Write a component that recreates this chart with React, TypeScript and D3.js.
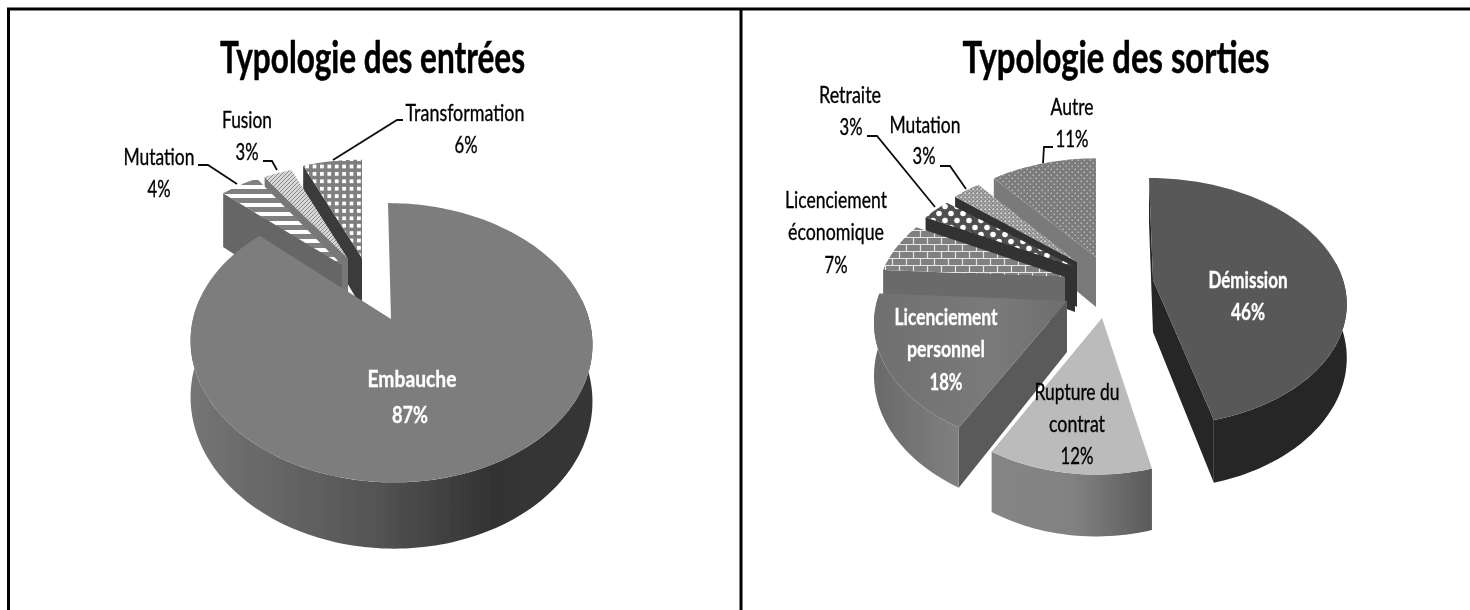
import React from "react";
import * as d3 from "d3";

// ---------- data ----------
const entreesLabels = ["Embauche", "Mutation", "Fusion", "Transformation"];
const entreesValues = [87, 4, 3, 6];
const sortiesLabels = ["Démission", "Rupture du contrat", "Licenciement personnel", "Licenciement économique", "Retraite", "Mutation", "Autre"];
const sortiesValues = [46, 12, 18, 7, 3, 3, 11];
const titles = ["Typologie des entrées", "Typologie des sorties"];

// ---------- layout ----------
type Geo = { ax: number; ay: number; rx: number; ry: number; k: number; sk: number; d: number; top: string; wall: string; side: string };
const K = 0.17;
const entreesGeo: Geo[] = [
  { ax: 391, ay: 319, rx: 198, ry: 135.6, k: K, sk: -3, d: 55, top: "#7d7d7d", wall: "url(#gEmb)", side: "#3a3a3a" },
  { ax: 342, ay: 265, rx: 182, ry: 117, k: K, sk: 0, d: 60, top: "url(#pStripes)", wall: "#666", side: "#666" },
  { ax: 348, ay: 259, rx: 178, ry: 111, k: K, sk: 0, d: 50, top: "url(#pFine)", wall: "#777", side: "#777" },
  { ax: 362, ay: 258, rx: 185, ry: 115, k: K, sk: 0, d: 50, top: "url(#pPlaid)", wall: "#3b3b3b", side: "#3b3b3b" },
];
const sortiesGeo: Geo[] = [
  { ax: 1153, ay: 280, rx: 190, ry: 120, k: 0.176, sk: -4, d: 52, top: "#595959", wall: "#252525", side: "#252525" },
  { ax: 1102, ay: 318, rx: 185, ry: 129, k: 0.176, sk: 5.7, d: 51, top: "#bbbbbb", wall: "url(#gRup)", side: "#666" },
  { ax: 1067, ay: 301, rx: 190, ry: 122, k: 0.176, sk: 0, d: 51, top: "url(#gPers)", wall: "url(#gPersW)", side: "#5a5a5a" },
  { ax: 1065, ay: 277, rx: 184, ry: 112, k: 0.176, sk: 0, d: 45, top: "url(#pBrick)", wall: "#6a6a6a", side: "#6a6a6a" },
  { ax: 1075, ay: 267, rx: 185, ry: 112, k: 0.176, sk: 0, d: 45, top: "url(#pDots)", wall: "#333", side: "#333" },
  { ax: 1077, ay: 262, rx: 176, ry: 114, k: 0.176, sk: 0, d: 45, top: "url(#pMini)", wall: "#333", side: "#333" },
  { ax: 1096, ay: 257, rx: 182, ry: 116, k: 0.176, sk: 0, d: 50, top: "url(#pAutre)", wall: "#7a7a7a", side: "#7a7a7a" },
];

type Lbl = { t: string; x: number; y: number; w: number; c?: string; b?: boolean };
const labelsText: Lbl[] = [
  { t: "Transformation", x: 465, y: 121, w: 119 },
  { t: "6%", x: 466, y: 153, w: 23 },
  { t: "Fusion", x: 247, y: 128, w: 50 },
  { t: "3%", x: 247, y: 160, w: 23 },
  { t: "Mutation", x: 159, y: 165, w: 71 },
  { t: "4%", x: 159, y: 197, w: 23 },
  { t: "Embauche", x: 412, y: 387, w: 89, c: "#fff", b: true },
  { t: "87%", x: 410, y: 423, w: 36, c: "#fff", b: true },
  { t: "Retraite", x: 850, y: 103, w: 62 },
  { t: "3%", x: 851, y: 135, w: 23 },
  { t: "Mutation", x: 925, y: 133, w: 71 },
  { t: "3%", x: 924, y: 164, w: 23 },
  { t: "Licenciement", x: 836, y: 208, w: 102 },
  { t: "économique", x: 836, y: 240, w: 96 },
  { t: "7%", x: 836, y: 273, w: 23 },
  { t: "Autre", x: 1072, y: 115, w: 43 },
  { t: "11%", x: 1072, y: 147, w: 33 },
  { t: "Licenciement", x: 946, y: 325, w: 103, c: "#fff", b: true },
  { t: "personnel", x: 946, y: 357, w: 78, c: "#fff", b: true },
  { t: "18%", x: 946, y: 390, w: 33, c: "#fff", b: true },
  { t: "Rupture du", x: 1077, y: 400, w: 85 },
  { t: "contrat", x: 1077, y: 432, w: 56 },
  { t: "12%", x: 1077, y: 464, w: 33 },
  { t: "Démission", x: 1248, y: 288, w: 79, c: "#fff", b: true },
  { t: "46%", x: 1248, y: 320, w: 34, c: "#fff", b: true },
];
const leaders: [number, number][][] = [
  [[333, 160], [397, 120], [403, 120]],
  [[277, 170], [272, 161], [263, 161]],
  [[237, 184], [208, 165], [198, 165]],
  [[935, 207], [877, 136], [867, 136]],
  [[966, 189], [950, 166], [940, 166]],
  [[1043, 163], [1044, 147], [1053, 147]],
];

function projector(g: Geo) {
  return (a: number, r: number, z: number): [number, number] => {
    const u = Math.sin(a) * r;
    const v = Math.cos(a) * r;
    const f = 1 / (1 + g.k * v);
    return [g.ax + g.rx * u * f + g.sk * v, g.ay - g.ry * v * f + z * f];
  };
}
const line = d3.line<[number, number]>().x((p) => p[0]).y((p) => p[1]);

function Slice({ g, a0, a1 }: { g: Geo; a0: number; a1: number }) {
  const P = projector(g);
  const n = Math.max(8, Math.ceil((a1 - a0) * 40));
  const angles = d3.range(n + 1).map((i) => a0 + ((a1 - a0) * i) / n);
  const rim = angles.map((a) => P(a, 1, 0));
  const top = "M" + P(0, 0, 0).join(",") + "L" + (line(rim) as string).slice(1) + "Z";
  const radial = (a: number) =>
    line([P(a, 0, 0), P(a, 1, 0), P(a, 1, g.d), P(a, 0, g.d)]) + "Z";
  // outer wall: portion of the arc that faces the viewer
  const lo = Math.PI / 2 - 0.15;
  const hi = (3 * Math.PI) / 2 + 0.15;
  const wa0 = Math.max(a0, lo);
  const wa1 = Math.min(a1, hi);
  let outer: string | null = null;
  if (wa1 > wa0) {
    const m = Math.ceil((wa1 - wa0) * 40);
    const as = d3.range(m + 1).map((i) => wa0 + ((wa1 - wa0) * i) / m);
    const pts = as.map((a) => P(a, 1, 0)).concat(as.slice().reverse().map((a) => P(a, 1, g.d)));
    outer = line(pts) + "Z";
  }
  const startVisible = Math.sin(a0) < -1e-6 || (a0 === 0 && g.ax > 1000);
  const endVisible = -Math.sin(a1) < -1e-6;
  return (
    <g>
      {endVisible && <path d={radial(a1)} fill={g.side} />}
      {startVisible && <path d={radial(a0)} fill={g.side} />}
      {outer && <path d={outer} fill={g.wall} />}
      <path d={top} fill={g.top} />
    </g>
  );
}

function Pie({ values, geo, order }: { values: number[]; geo: Geo[]; order: number[] }) {
  const arcs = d3.pie<number>().sort(null).value((d) => d)(values);
  return (
    <g>
      {order.map((i) => (
        <Slice key={i} g={geo[i]} a0={arcs[i].startAngle} a1={arcs[i].endAngle} />
      ))}
    </g>
  );
}

export default function App() {
  const font = "Lato, 'Open Sans', sans-serif";
  return (
    <svg width={1470} height={610} style={{ position: "fixed", left: 0, top: 0, background: "#fff" }}>
      <defs>
        <filter id="soft" x="-5%" y="-5%" width="110%" height="110%">
          <feGaussianBlur stdDeviation="0.65" />
        </filter>
        <linearGradient id="gEmb" gradientUnits="userSpaceOnUse" x1="190" x2="592" y1="0" y2="0">
          <stop offset="0" stopColor="#757575" />
          <stop offset="0.45" stopColor="#555" />
          <stop offset="0.75" stopColor="#333" />
          <stop offset="1" stopColor="#363636" />
        </linearGradient>
        <linearGradient id="gRup" gradientUnits="userSpaceOnUse" x1="992" x2="1152" y1="0" y2="0">
          <stop offset="0" stopColor="#858585" />
          <stop offset="0.5" stopColor="#828282" />
          <stop offset="1" stopColor="#5a5a5a" />
        </linearGradient>
        <linearGradient id="gPers" gradientUnits="userSpaceOnUse" x1="878" x2="1067" y1="0" y2="0">
          <stop offset="0" stopColor="#707070" />
          <stop offset="0.6" stopColor="#7a7a7a" />
          <stop offset="1" stopColor="#6e6e6e" />
        </linearGradient>
        <linearGradient id="gPersW" gradientUnits="userSpaceOnUse" x1="876" x2="958" y1="0" y2="0">
          <stop offset="0" stopColor="#6a6a6a" />
          <stop offset="1" stopColor="#808080" />
        </linearGradient>
        <pattern id="pStripes" width="9" height="9" patternUnits="userSpaceOnUse">
          <rect width="9" height="9" fill="#fff" />
          <rect width="9" height="5" fill="#808080" />
        </pattern>
        <pattern id="pFine" width="4" height="4" patternUnits="userSpaceOnUse">
          <rect width="4" height="4" fill="#d8d8d8" />
          <path d="M0 4L4 0M-1 1L1 -1M3 5L5 3" stroke="#888" strokeWidth="1" />
        </pattern>
        <pattern id="pPlaid" width="7.4" height="7.4" patternUnits="userSpaceOnUse">
          <rect width="7.4" height="7.4" fill="#7e7e7e" />
          <rect x="1.8" y="1.8" width="3.8" height="3.8" fill="#fff" />
        </pattern>
        <pattern id="pDots" width="12" height="14" patternUnits="userSpaceOnUse">
          <rect width="12" height="14" fill="#505050" />
          <circle cx="3" cy="3.5" r="2.8" fill="#fff" />
          <circle cx="9" cy="10.5" r="2.8" fill="#fff" />
        </pattern>
        <pattern id="pMini" width="4" height="4" patternUnits="userSpaceOnUse">
          <rect width="4" height="4" fill="#8c8c8c" />
          <rect x="0.5" y="0.5" width="1.6" height="1.6" fill="#e4e4e4" />
          <rect x="2.5" y="2.5" width="1.2" height="1.2" fill="#ccc" />
        </pattern>
        <pattern id="pBrick" width="14" height="14" patternUnits="userSpaceOnUse">
          <rect width="14" height="14" fill="#808080" />
          <path d="M0 6.5H14M0 13.5H14M3.5 0V6.5M10.5 7V14" stroke="#e6e6e6" strokeWidth="1.2" fill="none" />
        </pattern>
        <pattern id="pAutre" width="6" height="6" patternUnits="userSpaceOnUse">
          <rect width="6" height="6" fill="#7c7c7c" />
          <rect x="0.5" y="0.5" width="1.5" height="1.5" fill="#b8b8b8" />
          <rect x="3.5" y="3.5" width="1.5" height="1.5" fill="#b8b8b8" />
        </pattern>
      </defs>

      <g filter="url(#soft)">
        <Pie values={entreesValues} geo={entreesGeo} order={[3, 2, 1, 0]} />
        <Pie values={sortiesValues} geo={sortiesGeo} order={[6, 5, 4, 3, 2, 1, 0]} />

        {leaders.map((l, i) => (
          <path key={i} d={line(l) as string} fill="none" stroke="#111" strokeWidth={1.8} />
        ))}

        {titles.map((t, i) => (
          <text
            key={t}
            x={i === 0 ? 372.5 : 1116}
            y={73}
            textAnchor="middle"
            fontFamily={font}
            fontWeight={700}
            fontSize={44}
            textLength={i === 0 ? 305 : 307}
            lengthAdjust="spacingAndGlyphs"
            fill="#000"
            stroke="#000"
            strokeWidth={0.5}
          >
            {t}
          </text>
        ))}

        {labelsText.map((l, i) => (
          <text
            key={i}
            x={l.x}
            y={l.y}
            textAnchor="middle"
            fontFamily={font}
            fontSize={23}
            fontWeight={l.b ? 700 : 400}
            textLength={l.w}
            lengthAdjust="spacingAndGlyphs"
            fill={l.c || "#000"}
            stroke={l.c || "#000"}
            strokeWidth={0.35}
          >
            {l.t}
          </text>
        ))}
      </g>

      {/* table frame */}
      <path d="M8.5 610V9H1470M741 9V610" fill="none" stroke="#000" strokeWidth={3} />
    </svg>
  );
}
